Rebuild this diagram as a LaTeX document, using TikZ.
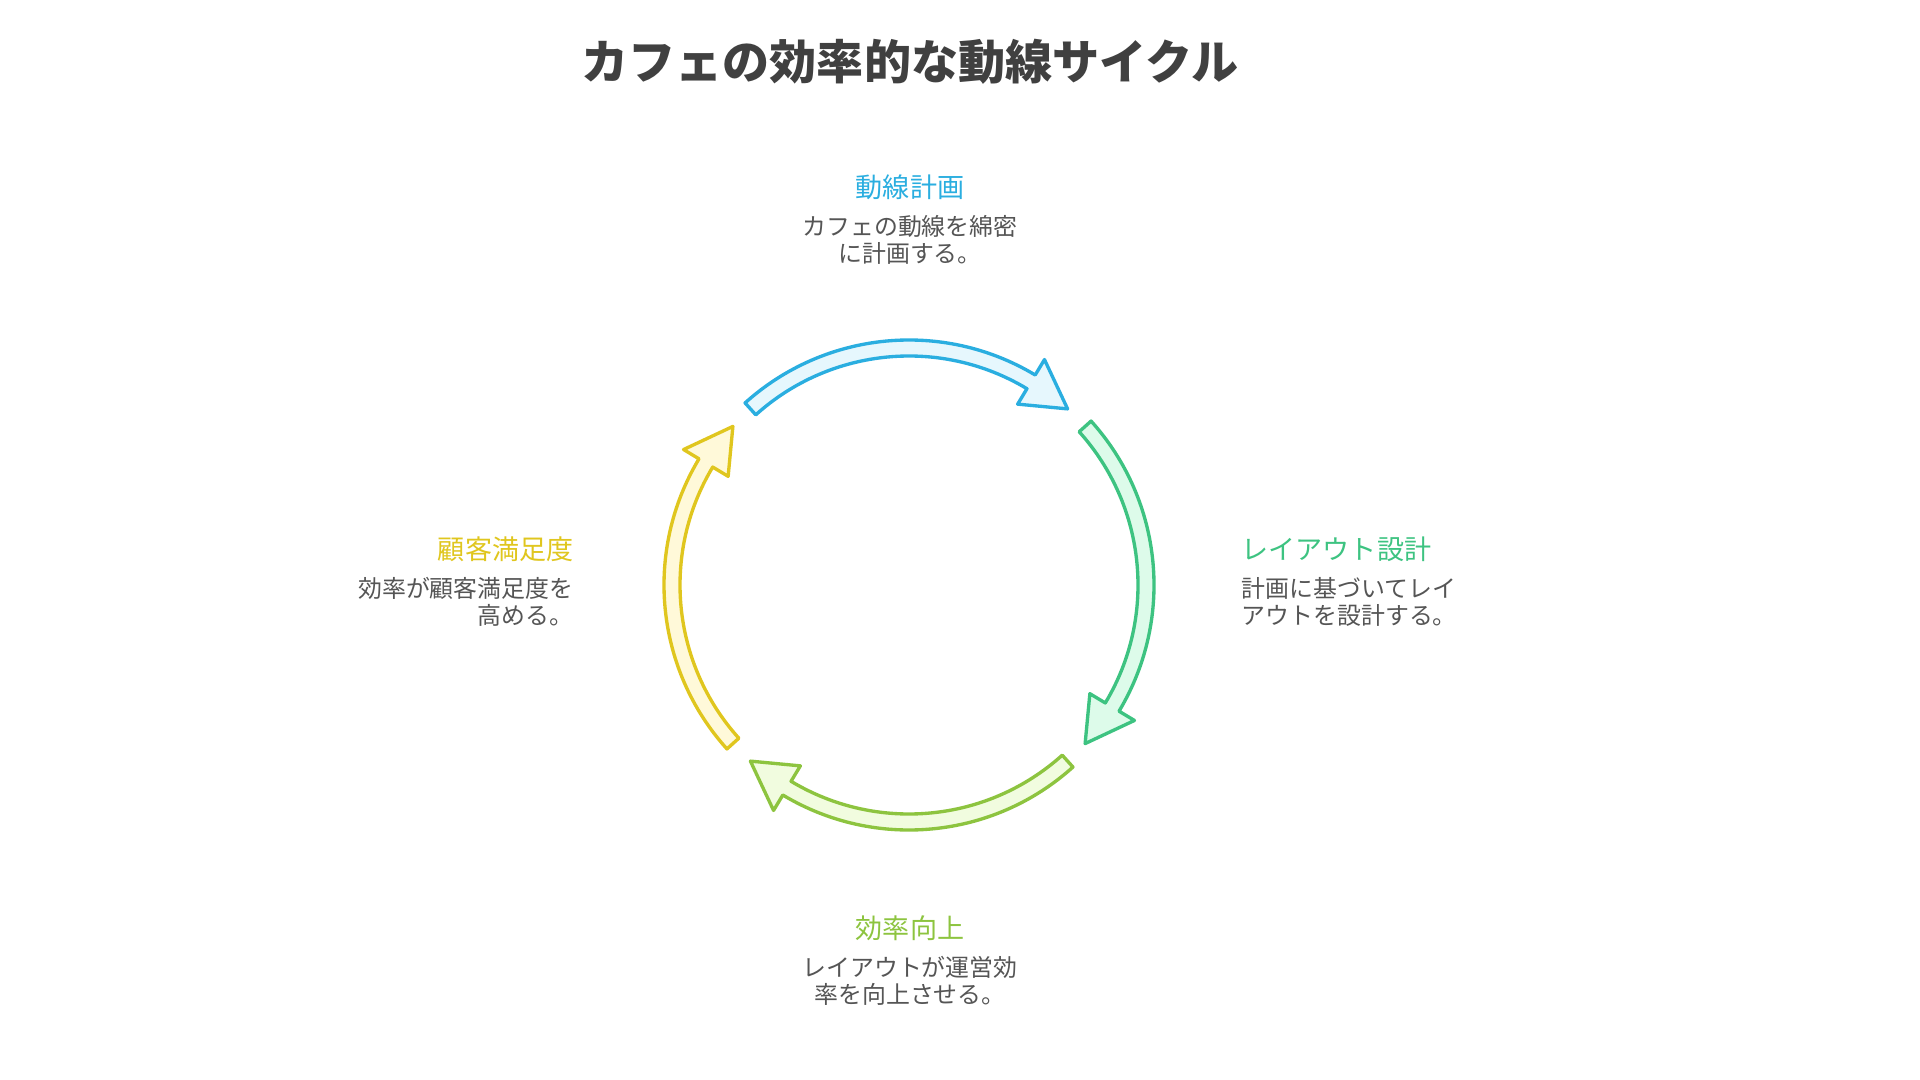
\documentclass[tikz,border=0pt]{standalone}
\usepackage{fontspec}
\setmainfont{Noto Sans CJK JP}
\usetikzlibrary{positioning}
\definecolor{blu}{HTML}{2AAEE0}
\definecolor{blufill}{HTML}{E6F7FD}
\definecolor{grn}{HTML}{3DC381}
\definecolor{grnfill}{HTML}{DDFBEA}
\definecolor{lim}{HTML}{8DC43F}
\definecolor{limfill}{HTML}{F1FCDF}
\definecolor{yel}{HTML}{E0C61E}
\definecolor{yelfill}{HTML}{FFF9D9}
\definecolor{txt}{HTML}{555555}
\definecolor{ttl}{HTML}{404040}
\tikzset{
  cyc/.style={line width=0.95pt, line join=round},
  lbl/.style={inner sep=0pt, font=\fontsize{7.7pt}{9pt}\selectfont},
  dsc/.style={inner sep=0pt, text=txt, font=\fontsize{6.8pt}{7.7pt}\selectfont}
}
\begin{document}
\begin{tikzpicture}
    \fill[white] (0,0) rectangle (19.2,-10.8);
    \useasboundingbox (0,0) rectangle (19.2,-10.8);
    \node[inner sep=0pt, text=ttl, font=\fontsize{13.4pt}{16pt}\selectfont\bfseries] (title) at (9.10,-0.62) {カフェの効率的な動線サイクル};
    % the four arrows of the cycle
    \begin{scope}[shift={(9.09,-5.85)}]
      \foreach \a/\c/\f in {132/blu/blufill,42/grn/grnfill,-48/lim/limfill,-138/yel/yelfill}{
        \pgfmathsetmacro\b{\a-84}
        \pgfmathsetmacro\h{\a-73}
        \draw[cyc, draw=\c, fill=\f] (\a:2.45) arc[start angle=\a, end angle=\h, radius=2.45]
          -- (\h:2.63) -- (\b:2.37) -- (\h:2.11) -- (\h:2.29)
          arc[start angle=\h, end angle=\a, radius=2.29] -- cycle;
      }
    \end{scope}
    \node[lbl, text=blu] (plan) at (9.10,-1.87) {動線計画};
    \node[dsc, align=center] (plantxt) at (9.10,-2.40) {カフェの動線を綿密\\に計画する。};
    \node[lbl, text=grn, anchor=west] (lay) at (12.41,-5.49) {レイアウト設計};
    \node[dsc, align=left, anchor=west] (laytxt) at (12.41,-6.02) {計画に基づいてレイ\\アウトを設計する。};
    \node[lbl, text=lim] (eff) at (9.10,-9.28) {効率向上};
    \node[dsc, align=center] (efftxt) at (9.10,-9.81) {レイアウトが運営効\\率を向上させる。};
    \node[lbl, text=yel, anchor=east] (sat) at (5.74,-5.49) {顧客満足度};
    \node[dsc, align=right, anchor=east] (sattxt) at (5.74,-6.02) {効率が顧客満足度を\\高める。};
  \end{tikzpicture}
\end{document}
